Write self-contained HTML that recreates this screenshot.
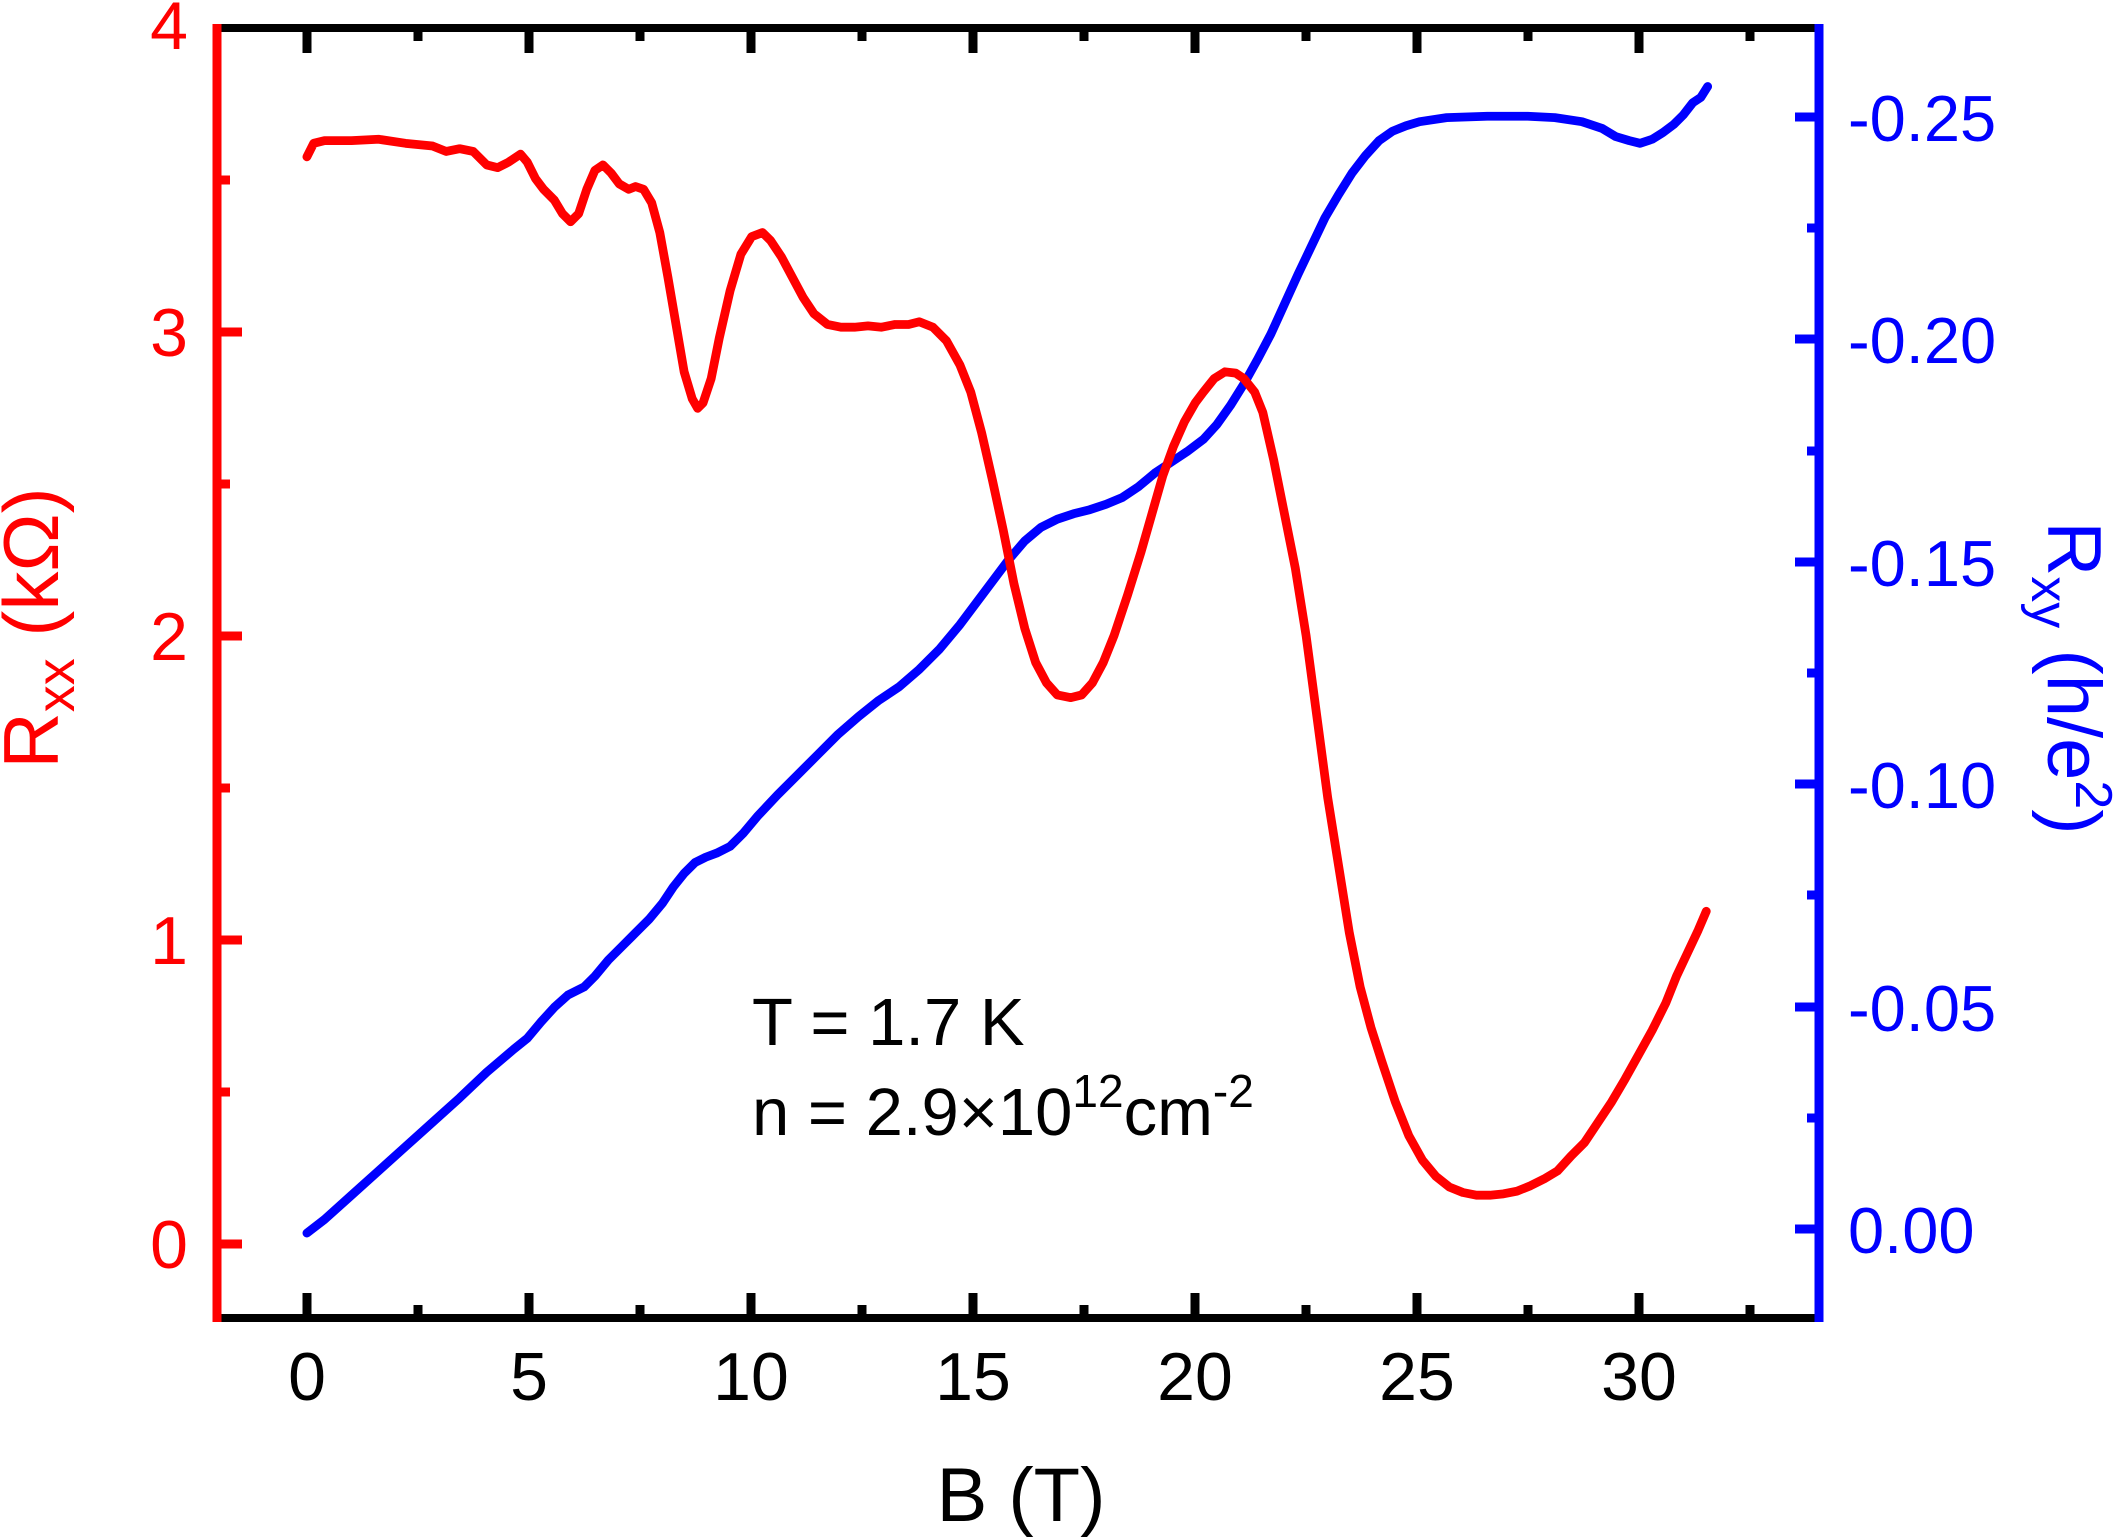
<!DOCTYPE html>
<html><head><meta charset="utf-8"><style>html,body{margin:0;padding:0;background:#fff}svg{display:block}</style></head>
<body>
<svg width="2120" height="1537" viewBox="0 0 2120 1537" xmlns="http://www.w3.org/2000/svg" font-family="Liberation Sans, Arial, sans-serif">
<rect width="2120" height="1537" fill="#fff"/>
<g transform="scale(1.35204)" fill="none" stroke-linejoin="round" stroke-linecap="round" stroke-width="6.5">
<polyline stroke="#0000ff" points="227,912 240,902 260,884 280,866 300,848 320,830 340,812 360,793 380,776 390,768 400,756 410,745 420,736 432,730 440,722 450,710 460,700 470,690 480,680 490,668 498,656 506,646 514,638 522,634 530,631 540,626 550,616 560,604 575,588 590,573 605,558 620,543 635,530 650,518 665,508 680,495 695,480 710,462 722,446 734,430 746,414 758,400 770,390 782,384 794,380 806,377 818,373 830,368 842,360 854,350 866,342 878,334 890,325 900,314 910,300 920,284 930,266 940,247 950,225 960,203 970,182 980,161 990,144 1000,128 1010,115 1020,104 1030,97 1040,93 1050,90 1070,87 1100,86 1130,86 1150,87 1170,90 1185,95 1195,101 1205,104 1213,106 1222,103 1230,98 1238,92 1245,85 1252,76 1258,72 1263,64"/>
<polyline stroke="#ff0000" points="227,116 232,106 240,104 260,104 280,103 300,106 320,108 330,112 340,110 350,112 360,122 368,124 376,120 385,114 390,120 396,132 402,140 410,148 416,158 422,164 428,158 434,140 440,126 446,122 452,128 458,136 465,140 470,138 476,140 482,150 488,172 494,205 500,240 506,275 512,295 516,302 520,298 526,280 532,250 540,215 548,188 556,175 564,172 570,178 578,190 586,205 594,220 602,232 612,240 622,242 632,242 642,241 652,242 662,240 672,240 680,238 690,242 700,252 710,270 718,290 726,320 734,355 742,392 750,432 758,465 766,490 774,505 782,514 792,516 800,514 808,505 816,490 824,470 834,440 844,408 852,380 860,352 868,330 876,312 884,298 890,290 898,280 906,275 914,276 920,280 928,290 934,305 942,340 950,380 958,420 966,470 974,530 982,590 990,640 998,690 1006,730 1014,760 1022,785 1032,815 1042,840 1052,858 1062,870 1072,878 1082,882 1092,884 1102,884 1112,883 1122,881 1132,877 1142,872 1152,866 1162,855 1172,845 1182,830 1192,815 1202,798 1212,780 1222,762 1232,742 1240,722 1248,705 1256,688 1262,674"/>
</g>
<line x1="217" y1="28" x2="1819" y2="28" stroke="#000" stroke-width="8"/>
<line x1="217" y1="1318" x2="1819" y2="1318" stroke="#000" stroke-width="8"/>
<line x1="217" y1="24" x2="217" y2="1322" stroke="#ff0000" stroke-width="9"/>
<line x1="1819" y1="24" x2="1819" y2="1322" stroke="#0000ff" stroke-width="9"/>
<g stroke="#000" stroke-width="9">
<path d="M307,1318V1293M529,1318V1293M751,1318V1293M973,1318V1293M1195,1318V1293M1417,1318V1293M1639,1318V1293"/>
<path d="M418,1318V1305M640,1318V1305M862,1318V1305M1084,1318V1305M1306,1318V1305M1528,1318V1305M1750,1318V1305"/>
<path d="M307,28V53M529,28V53M751,28V53M973,28V53M1195,28V53M1417,28V53M1639,28V53"/>
<path d="M418,28V41M640,28V41M862,28V41M1084,28V41M1306,28V41M1528,28V41M1750,28V41"/>
</g>
<g stroke="#ff0000" stroke-width="9">
<path d="M217,1244H242M217,940H242M217,636H242M217,332H242"/>
<path d="M217,1092H230M217,788H230M217,484H230M217,180H230"/>
</g>
<g stroke="#0000ff" stroke-width="9">
<path d="M1819,1229H1795M1819,1007H1795M1819,784H1795M1819,562H1795M1819,339H1795M1819,117H1795"/>
<path d="M1819,1118H1807M1819,895H1807M1819,673H1807M1819,451H1807M1819,228H1807"/>
</g>
<g font-size="68" text-anchor="middle" fill="#000">
<text x="307" y="1400">0</text><text x="529" y="1400">5</text><text x="751" y="1400">10</text><text x="973" y="1400">15</text><text x="1195" y="1400">20</text><text x="1417" y="1400">25</text><text x="1639" y="1400">30</text>
</g>
<text x="1021" y="1521" font-size="76" text-anchor="middle">B (T)</text>
<g font-size="68" text-anchor="end" fill="#ff0000">
<text x="188" y="1268">0</text><text x="188" y="964">1</text><text x="188" y="660">2</text><text x="188" y="356">3</text><text x="188" y="49">4</text>
</g>
<text transform="translate(58,628) rotate(-90)" font-size="78" text-anchor="middle" fill="#ff0000">R<tspan font-size="54" dy="16">xx</tspan><tspan dy="-16"> (kΩ)</tspan></text>
<g font-size="65" fill="#0000ff">
<text x="1848" y="1253">0.00</text><text x="1848" y="1031">-0.05</text><text x="1848" y="808">-0.10</text><text x="1848" y="586">-0.15</text><text x="1848" y="363">-0.20</text><text x="1848" y="141">-0.25</text>
</g>
<text transform="translate(2048,678) rotate(90)" font-size="76" text-anchor="middle" fill="#0000ff">R<tspan font-size="52" dy="16">xy</tspan><tspan dy="-16"> (h/e</tspan><tspan font-size="52" dy="-28">2</tspan><tspan dy="28">)</tspan></text>
<text x="752" y="1045" font-size="67">T = 1.7 K</text>
<text x="752" y="1135" font-size="67">n = 2.9×10<tspan font-size="46" dy="-28">12</tspan><tspan dy="28">cm</tspan><tspan font-size="46" dy="-28">-2</tspan></text>
</svg>
</body></html>
